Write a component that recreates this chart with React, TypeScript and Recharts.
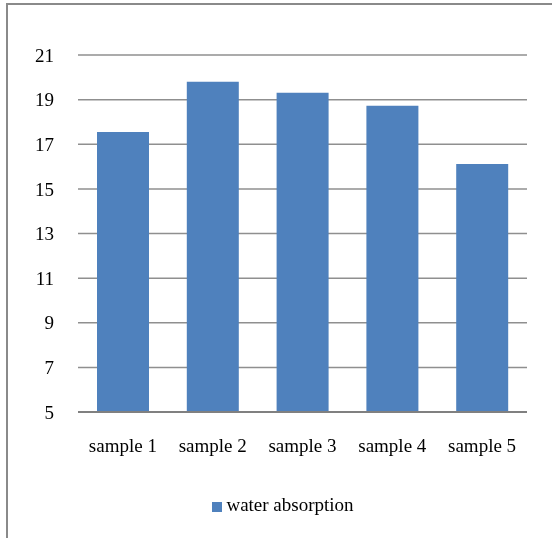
import { BarChart, Bar, XAxis, YAxis, CartesianGrid, Legend } from 'recharts'

const samples = ['sample 1', 'sample 2', 'sample 3', 'sample 4', 'sample 5']
const waterAbsorption = [17.55, 19.8, 19.31, 18.73, 16.12]
const yTicks = [5, 7, 9, 11, 13, 15, 17, 19, 21]

const rows = samples.map((name, i) => ({ name, value: waterAbsorption[i] }))

const font = '"Liberation Serif", "Times New Roman", serif'

export default function App() {
  return (
    <div>
      <div
        style={{
          position: 'fixed',
          left: 6,
          top: 3,
          width: 600,
          height: 600,
          borderLeft: '2px solid #8a8a8a',
          borderTop: '2px solid #8a8a8a',
          boxSizing: 'border-box',
        }}
      />
      <div style={{ position: 'fixed', left: 0, top: 0, width: 552, height: 538 }}>
        <BarChart
          width={552}
          height={538}
          data={rows}
          margin={{ top: 55, right: 25, left: 0, bottom: 74 }}
          barSize={52}
        >
          <CartesianGrid vertical={false} stroke="#8f8f8f" strokeWidth={1.5} />
          <XAxis
            dataKey="name"
            tickLine={false}
            axisLine={{ stroke: '#808080', strokeWidth: 2 }}
            tick={{ fill: '#000', fontSize: 19, fontFamily: font }}
            tickSize={0}
            tickMargin={27}
          />
          <YAxis
            domain={[5, 21]}
            ticks={yTicks}
            width={78}
            tickLine={false}
            axisLine={false}
            tick={{ fill: '#000', fontSize: 19, fontFamily: font }}
            tickSize={0}
            tickMargin={24}
          />
          <Legend
            iconType="square"
            iconSize={10}
            formatter={() => (
              <span style={{ color: '#000', fontSize: 19, fontFamily: font }}>water absorption</span>
            )}
            wrapperStyle={{ position: 'absolute', left: 203, top: 494, width: 170 }}
          />
          <Bar dataKey="value" name="water absorption" fill="#4F81BD" isAnimationActive={false} />
        </BarChart>
      </div>
    </div>
  )
}
